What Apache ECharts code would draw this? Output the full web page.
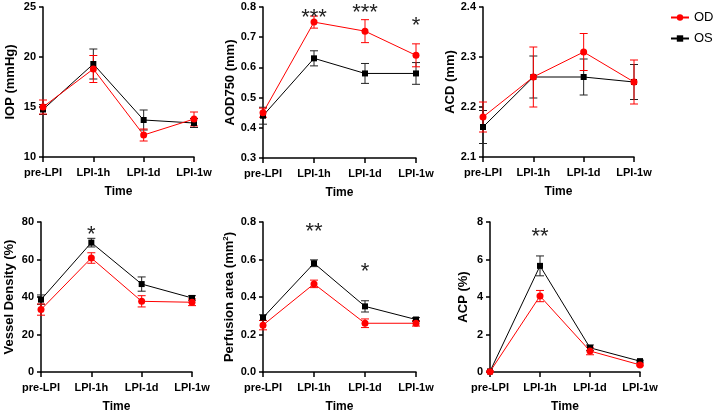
<!DOCTYPE html>
<html>
<head>
<meta charset="utf-8">
<script src="https://cdn.jsdelivr.net/npm/echarts@6/dist/echarts.min.js"></script>
<style>
  html, body { margin: 0; padding: 0; background: #fff; }
  #chart { width: 716px; height: 414px; }
</style>
</head>
<body>
<div id="chart"></div>
<script>
const categories = ['pre-LPI', 'LPI-1h', 'LPI-1d', 'LPI-1w'];

// IOP (mmHg)
const iopOD = [15.0, 18.8, 12.2, 13.8];
const iopODErr = [0.7, 1.35, 0.6, 0.7];
const iopOS = [14.75, 19.3, 13.7, 13.4];
const iopOSErr = [0.5, 1.5, 1.0, 0.45];

// AOD750 (mm)
const aodOD = [0.45, 0.75, 0.72, 0.64];
const aodODErr = [0.015, 0.02, 0.038, 0.038];
const aodOS = [0.44, 0.63, 0.58, 0.58];
const aodOSErr = [0.028, 0.025, 0.033, 0.036];
const aodStars = [[1, 0.777, '***'], [2, 0.793, '***'], [3, 0.75, '*']];

// ACD (mm)
const acdOD = [2.18, 2.26, 2.31, 2.25];
const acdODErr = [0.03, 0.06, 0.037, 0.044];
const acdOS = [2.16, 2.26, 2.26, 2.25];
const acdOSErr = [0.033, 0.042, 0.036, 0.035];

// Vessel Density (%)
const vdOD = [33.3, 60.8, 37.7, 37.2];
const vdODErr = [3, 2.8, 3, 1.8];
const vdOS = [38.6, 69.0, 46.9, 39.5];
const vdOSErr = [2.5, 2.3, 3.8, 1.2];
const vdStars = [[1, 75.2, '*']];

// Perfusion area (mm2)
const paOD = [0.25, 0.47, 0.26, 0.26];
const paODErr = [0.025, 0.02, 0.023, 0.015];
const paOS = [0.29, 0.58, 0.35, 0.28];
const paOSErr = [0.015, 0.018, 0.03, 0.01];
const paStars = [[1, 0.768, '**'], [2, 0.553, '*']];

// ACP (%)
const acpOD = [0.02, 4.05, 1.12, 0.38];
const acpODErr = [0.02, 0.3, 0.2, 0.05];
const acpOS = [0.03, 5.66, 1.29, 0.58];
const acpOSErr = [0.02, 0.53, 0.15, 0.05];
const acpStars = [[1, 7.42, '**']];

const RED = '#ff0000';
const BLACK = '#000000';
const FONT = '"Liberation Sans", Arial, sans-serif';

const chart = echarts.init(document.getElementById('chart'));

function errRender(color) {
    return function (params, api) {
        const x = api.value(0);
        const top = api.coord([x, api.value(2)]);
        const bot = api.coord([x, api.value(1)]);
        const w = 4;
        const st = { stroke: color, lineWidth: 1 };
        return {
            type: 'group',
            children: [
                { type: 'line', shape: { x1: top[0], y1: top[1], x2: bot[0], y2: bot[1] }, style: st },
                { type: 'line', shape: { x1: top[0] - w, y1: top[1], x2: top[0] + w, y2: top[1] }, style: st },
                { type: 'line', shape: { x1: bot[0] - w, y1: bot[1], x2: bot[0] + w, y2: bot[1] }, style: st }
            ]
        };
    };
}

// significance stars, glyph sits high in the em box so push it down a bit
function starRender(params, api) {
    const p = api.coord([api.value(0), api.value(1)]);
    return {
        type: 'text',
        x: p[0],
        y: p[1] + 4,
        style: {
            text: api.value(2),
            fontSize: 22,
            fontFamily: FONT,
            fill: '#222',
            align: 'center',
            verticalAlign: 'middle'
        }
    };
}

const grids = [];
const xAxes = [];
const yAxes = [];
const series = [];

function addPanel(idx, grid, yName, nameGap, yMin, yMax, yInt, digits, od, odErr, os, osErr, stars) {
    grids.push(grid);
    xAxes.push({
        type: 'category',
        gridIndex: idx,
        data: categories,
        boundaryGap: false,
        axisLine: { lineStyle: { color: BLACK, width: 1.5 } },
        axisTick: { show: true, length: 5, lineStyle: { color: BLACK, width: 1.5 } },
        axisLabel: { interval: 0, color: BLACK, fontWeight: 'bold', fontSize: 11, margin: 10, fontFamily: FONT },
        splitLine: { show: false },
        name: 'Time',
        nameLocation: 'middle',
        nameGap: 29,
        nameTextStyle: { color: BLACK, fontWeight: 'bold', fontSize: 12, fontFamily: FONT }
    });
    yAxes.push({
        type: 'value',
        gridIndex: idx,
        min: yMin,
        max: yMax,
        interval: yInt,
        axisLine: { show: true, lineStyle: { color: BLACK, width: 1.5 } },
        axisTick: { show: true, length: 4, lineStyle: { color: BLACK, width: 1.5 } },
        axisLabel: {
            color: BLACK, fontWeight: 'bold', fontSize: 11, margin: 7, fontFamily: FONT,
            formatter: v => v.toFixed(digits)
        },
        splitLine: { show: false },
        name: yName,
        nameLocation: 'middle',
        nameGap: nameGap,
        nameTextStyle: {
            color: BLACK, fontWeight: 'bold', fontSize: 13, fontFamily: FONT,
            rich: { sup: { fontSize: 8, fontWeight: 'bold', verticalAlign: 'bottom', padding: [0, 0, 6, 0], fontFamily: FONT } }
        }
    });

    const errData = (vals, errs) => vals.map((v, i) => [i, v - errs[i], v + errs[i]]);

    series.push({
        name: 'OS err', type: 'custom', xAxisIndex: idx, yAxisIndex: idx,
        renderItem: errRender('#222'), clip: false,
        encode: { x: 0, y: [1, 2] }, data: errData(os, osErr), silent: true
    });
    series.push({
        name: 'OS', type: 'line', xAxisIndex: idx, yAxisIndex: idx,
        data: os, symbol: 'rect', symbolSize: 6, showAllSymbol: true,
        lineStyle: { color: BLACK, width: 1 }, itemStyle: { color: BLACK }
    });
    series.push({
        name: 'OD err', type: 'custom', xAxisIndex: idx, yAxisIndex: idx,
        renderItem: errRender(RED), clip: false,
        encode: { x: 0, y: [1, 2] }, data: errData(od, odErr), silent: true
    });
    series.push({
        name: 'OD', type: 'line', xAxisIndex: idx, yAxisIndex: idx,
        data: od, symbol: 'circle', symbolSize: 7, showAllSymbol: true,
        lineStyle: { color: RED, width: 1 }, itemStyle: { color: RED }
    });
    if (stars) {
        series.push({
            name: 'sig', type: 'custom', xAxisIndex: idx, yAxisIndex: idx,
            renderItem: starRender, clip: false,
            encode: { x: 0, y: 1 }, data: stars, silent: true
        });
    }
}

addPanel(0, { left: 43, top: 7, width: 151, height: 150 }, 'IOP (mmHg)', 26, 10, 25, 5, 0,
    iopOD, iopODErr, iopOS, iopOSErr, null);
addPanel(1, { left: 263, top: 7, width: 153, height: 151 }, 'AOD750 (mm)', 23, 0.3, 0.8, 0.1, 1,
    aodOD, aodODErr, aodOS, aodOSErr, aodStars);
addPanel(2, { left: 483, top: 7, width: 151, height: 150 }, 'ACD (mm)', 21, 2.1, 2.4, 0.1, 1,
    acdOD, acdODErr, acdOS, acdOSErr, null);
addPanel(3, { left: 41, top: 222, width: 151, height: 151 }, 'Vessel Density (%)', 25, 0, 80, 20, 0,
    vdOD, vdODErr, vdOS, vdOSErr, vdStars);
addPanel(4, { left: 263, top: 222, width: 153, height: 151 }, 'Perfusion area (mm{sup|2})', 27, 0, 0.8, 0.2, 1,
    paOD, paODErr, paOS, paOSErr, paStars);
addPanel(5, { left: 490, top: 222, width: 150, height: 151 }, 'ACP (%)', 20, 0, 8, 2, 0,
    acpOD, acpODErr, acpOS, acpOSErr, acpStars);

chart.setOption({
    animation: false,
    backgroundColor: '#fff',
    textStyle: { fontFamily: FONT },
    legend: {
        data: ['OD', 'OS'],
        orient: 'vertical',
        left: 670,
        top: 11,
        padding: 0,
        itemWidth: 18,
        itemHeight: 8,
        itemGap: 8,
        textStyle: { color: BLACK, fontSize: 13, fontFamily: FONT }
    },
    grid: grids,
    xAxis: xAxes,
    yAxis: yAxes,
    series: series
});

window.addEventListener('resize', () => chart.resize());
</script>
</body>
</html>
